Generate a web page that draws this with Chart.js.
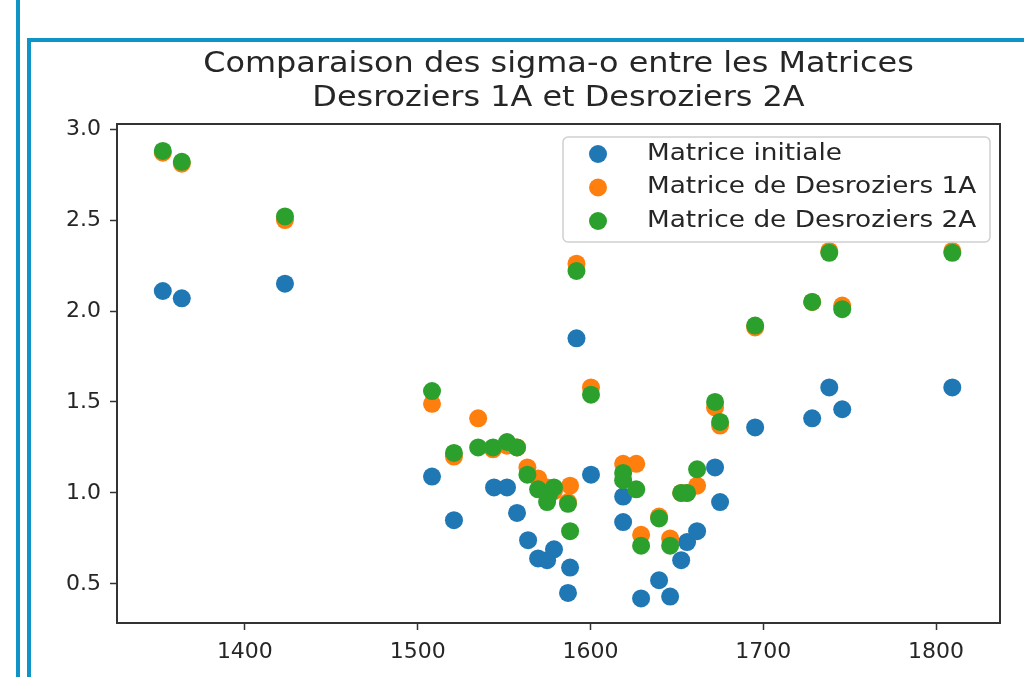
<!DOCTYPE html>
<html>
<head>
<meta charset="utf-8">
<script src="https://cdn.jsdelivr.net/npm/chart.js@4.4.1/dist/chart.umd.min.js"></script>
<style>
  html, body { margin: 0; padding: 0; background: #fff; width: 1024px; height: 677px; overflow: hidden; }
  #outerLine { position: absolute; left: 16px; top: 0; width: 4px; height: 677px; background: #1094c6; }
  #innerBox { position: absolute; left: 27px; top: 38px; width: 1100px; height: 700px; border-left: 4px solid #1094c6; border-top: 4px solid #1094c6; }
  #wrap { position: absolute; left: 32px; top: 42px; width: 992px; height: 635px; }
</style>
</head>
<body>
<div id="outerLine"></div>
<div id="innerBox"></div>
<div id="wrap"><canvas id="c"></canvas></div>
<script>
// ---- data ----
const titleLines = ['Comparaison des sigma-o entre les Matrices', 'Desroziers 1A et Desroziers 2A'];
const seriesNames = ['Matrice initiale', 'Matrice de Desroziers 1A', 'Matrice de Desroziers 2A'];
const seriesColors = ['#1f77b4', '#ff7f0e', '#2ca02c'];

const initX = [1352.5, 1363.5, 1423.2, 1508.3, 1521, 1544.2, 1551.7, 1557.5, 1563.9, 1569.7, 1574.9, 1578.9, 1588.2, 1587, 1591.9, 1600.3, 1618.9, 1618.9, 1629.3, 1639.7, 1646.1, 1652.5, 1655.9, 1661.7, 1672.1, 1675, 1695.3, 1728.3, 1738.2, 1745.7, 1809.4];
const initY = [2.11, 2.07, 2.15, 1.09, 0.85, 1.03, 1.03, 0.89, 0.74, 0.64, 0.63, 0.69, 0.59, 0.45, 1.85, 1.10, 0.98, 0.84, 0.42, 0.52, 0.43, 0.63, 0.73, 0.79, 1.14, 0.95, 1.36, 1.41, 1.58, 1.46, 1.58];

const d1aX = [1352.5, 1363.5, 1423.2, 1508.3, 1521, 1535, 1543.6, 1551.7, 1557.5, 1563.5, 1569.7, 1574.9, 1578.9, 1588.2, 1587, 1591.9, 1600.3, 1618.9, 1626.5, 1629.3, 1639.7, 1646.1, 1652.5, 1655.9, 1661.7, 1672.1, 1675, 1695.3, 1728.3, 1738.2, 1745.7, 1809.4];
const d1aY = [2.87, 2.81, 2.50, 1.49, 1.20, 1.41, 1.24, 1.26, 1.25, 1.14, 1.08, 1.03, 1.01, 1.04, 0.95, 2.26, 1.58, 1.16, 1.16, 0.77, 0.87, 0.75, 1.00, 1.00, 1.04, 1.47, 1.37, 1.91, 2.05, 2.33, 2.03, 2.33];

const d2aX = [1352.5, 1363.5, 1423.2, 1508.3, 1521, 1535, 1543.6, 1551.7, 1557.5, 1563.5, 1569.7, 1574.9, 1578.9, 1576, 1587, 1588.2, 1591.9, 1600.3, 1618.9, 1618.9, 1626.5, 1629.3, 1639.7, 1646.1, 1652.5, 1655.9, 1661.7, 1672.1, 1675, 1695.3, 1728.3, 1738.2, 1745.7, 1809.4];
const d2aY = [2.88, 2.82, 2.52, 1.56, 1.22, 1.25, 1.25, 1.28, 1.25, 1.10, 1.02, 0.95, 1.03, 0.99, 0.94, 0.79, 2.22, 1.54, 1.11, 1.07, 1.02, 0.71, 0.86, 0.71, 1.00, 1.00, 1.13, 1.50, 1.39, 1.92, 2.05, 2.32, 2.01, 2.32];

const xTicks = [1400, 1500, 1600, 1700, 1800];
const yTicks = [0.5, 1.0, 1.5, 2.0, 2.5, 3.0];

// ---- build ----
function pts(xs, ys) { return xs.map((x, i) => ({ x: x, y: ys[i] })); }
const allX = [initX, d1aX, d2aX];
const allY = [initY, d1aY, d2aY];
const datasets = seriesNames.map((n, i) => ({
  label: n,
  data: pts(allX[i], allY[i]),
  backgroundColor: seriesColors[i],
  borderWidth: 0,
  pointRadius: 9,
  pointHoverRadius: 9,
  order: seriesNames.length - i   // later series drawn on top, as in matplotlib
}));

const FONT = 'DejaVu Sans';
const TXT = '#262626';

function stretchedText(ctx, text, x, y, sx) {
  ctx.save();
  ctx.translate(x, y);
  ctx.scale(sx, 1);
  ctx.fillText(text, 0, 0);
  ctx.restore();
}

const framePlugin = {
  id: 'frame',
  afterDatasetsDraw(chart) {
    const a = chart.chartArea, ctx = chart.ctx;
    ctx.save();
    ctx.strokeStyle = '#333';
    ctx.lineWidth = 2;
    ctx.strokeRect(a.left, a.top, a.right - a.left, a.bottom - a.top);
    ctx.restore();
  }
};

const titlePlugin = {
  id: 'mplTitle',
  afterDraw(chart) {
    const ctx = chart.ctx;
    const a = chart.chartArea;
    const cx = (a.left + a.right) / 2;
    ctx.save();
    ctx.fillStyle = TXT;
    ctx.font = '29px "' + FONT + '"';
    ctx.textBaseline = 'middle';
    ctx.textAlign = 'center';
    titleLines.forEach((t, i) => stretchedText(ctx, t, cx, 22 + i * 34, 1.10));
    ctx.restore();
  }
};

const legendPlugin = {
  id: 'mplLegend',
  afterDraw(chart) {
    const ctx = chart.ctx;
    const a = chart.chartArea;
    const bw = 427, bh = 105;
    const bx = a.right - 10 - bw, by = a.top + 13;
    ctx.save();
    ctx.fillStyle = 'rgba(255,255,255,0.8)';
    ctx.strokeStyle = '#d0d0d0';
    ctx.lineWidth = 1.5;
    const r = 5;
    ctx.beginPath();
    ctx.moveTo(bx + r, by);
    ctx.arcTo(bx + bw, by, bx + bw, by + bh, r);
    ctx.arcTo(bx + bw, by + bh, bx, by + bh, r);
    ctx.arcTo(bx, by + bh, bx, by, r);
    ctx.arcTo(bx, by, bx + bw, by, r);
    ctx.closePath();
    ctx.fill();
    ctx.stroke();
    ctx.font = '23px "' + FONT + '"';
    ctx.textBaseline = 'middle';
    ctx.textAlign = 'left';
    chart.data.datasets.forEach((ds, i) => {
      const cy = by + 17 + i * 33.5;
      ctx.fillStyle = ds.backgroundColor;
      ctx.beginPath();
      ctx.arc(bx + 35, cy, 9, 0, Math.PI * 2);
      ctx.fill();
      ctx.fillStyle = TXT;
      stretchedText(ctx, ds.label, bx + 84, cy, 1.145);
    });
    ctx.restore();
  }
};

new Chart(document.getElementById('c'), {
  type: 'scatter',
  data: { datasets: datasets },
  options: {
    responsive: true,
    maintainAspectRatio: false,
    animation: false,
    events: [],
    layout: { padding: { left: 0, right: 24, top: 82, bottom: 0 } },
    plugins: {
      legend: { display: false },
      tooltip: { enabled: false },
      title: { display: false }
    },
    scales: {
      x: {
        type: 'linear',
        min: 1326, max: 1837,
        afterFit: s => { s.height = 54; },
        afterBuildTicks: s => { s.ticks = xTicks.map(v => ({ value: v })); },
        ticks: { color: TXT, font: { family: FONT, size: 22 }, padding: 9, maxRotation: 0, callback: v => String(v) },
        grid: { display: true, drawOnChartArea: false, drawTicks: true, tickLength: 7, tickColor: '#333', tickWidth: 1.5 },
        border: { display: true, color: '#333', width: 2 }
      },
      y: {
        type: 'linear',
        min: 0.285, max: 3.028,
        afterFit: s => { s.width = 85; },
        afterBuildTicks: s => { s.ticks = yTicks.map(v => ({ value: v })); },
        ticks: { color: TXT, font: { family: FONT, size: 22 }, padding: 9, callback: v => v.toFixed(1) },
        grid: { display: true, drawOnChartArea: false, drawTicks: true, tickLength: 7, tickColor: '#333', tickWidth: 1.5 },
        border: { display: true, color: '#333', width: 2 }
      }
    }
  },
  plugins: [framePlugin, titlePlugin, legendPlugin]
});
</script>
</body>
</html>
